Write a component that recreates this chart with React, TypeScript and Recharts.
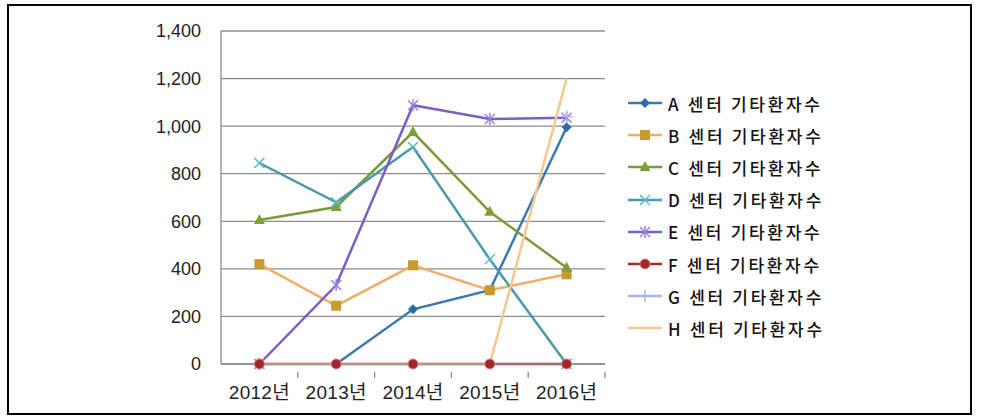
import React from 'react';
import { LineChart, Line, XAxis, YAxis, CartesianGrid } from 'recharts';

const years = ['2012년', '2013년', '2014년', '2015년', '2016년'];
const aValues = [null, 0, 230, 310, 995];
const bValues = [420, 245, 415, 310, 377];
const cValues = [605, 660, 975, 640, 405];
const dValues = [845, 680, 912, 440, 0];
const eValues = [0, 332, 1088, 1030, 1035];
const fValues = [0, 0, 0, 0, 0];
const gValues = [null, null, null, null, 1040];
const hValues = [0, 0, 0, 0, 1200];
const yTicks = [0, 200, 400, 600, 800, 1000, 1200, 1400];

const seriesNames = [
  'A 센터 기타환자수',
  'B 센터 기타환자수',
  'C 센터 기타환자수',
  'D 센터 기타환자수',
  'E 센터 기타환자수',
  'F 센터 기타환자수',
  'G 센터 기타환자수',
  'H 센터 기타환자수',
];

const data = years.map((y, i) => ({
  year: y,
  a: aValues[i],
  b: bValues[i],
  c: cValues[i],
  d: dValues[i],
  e: eValues[i],
  f: fValues[i],
  g: gValues[i],
  h: hValues[i],
}));

type Shape = 'diamond' | 'square' | 'triangle' | 'x' | 'star' | 'circle' | 'plus' | 'none';

const series: { key: string; name: string; stroke: string; marker: string; shape: Shape }[] = [
  { key: 'a', name: seriesNames[0], stroke: '#3C78B4', marker: '#2E6BA8', shape: 'diamond' },
  { key: 'b', name: seriesNames[1], stroke: '#F2AE68', marker: '#C99A2E', shape: 'square' },
  { key: 'c', name: seriesNames[2], stroke: '#7A9A3A', marker: '#7F9E35', shape: 'triangle' },
  { key: 'd', name: seriesNames[3], stroke: '#4A98A8', marker: '#5AB8CC', shape: 'x' },
  { key: 'e', name: seriesNames[4], stroke: '#7B5FC4', marker: '#9A80E0', shape: 'star' },
  { key: 'f', name: seriesNames[5], stroke: '#A52A2A', marker: '#A0282C', shape: 'circle' },
  { key: 'g', name: seriesNames[6], stroke: '#A8B4E4', marker: '#A8B8E8', shape: 'plus' },
  { key: 'h', name: seriesNames[7], stroke: '#F5C890', marker: '#F5C890', shape: 'none' },
];

function Marker({ shape, cx, cy, color }: { shape: Shape; cx: number; cy: number; color: string }) {
  switch (shape) {
    case 'diamond':
      return <polygon points={`${cx},${cy - 5} ${cx + 5},${cy} ${cx},${cy + 5} ${cx - 5},${cy}`} fill={color} />;
    case 'square':
      return <rect x={cx - 5} y={cy - 5} width={10} height={10} fill={color} />;
    case 'triangle':
      return <polygon points={`${cx},${cy - 6} ${cx + 5.5},${cy + 4} ${cx - 5.5},${cy + 4}`} fill={color} />;
    case 'x':
      return (
        <g stroke={color} strokeWidth={1.5}>
          <line x1={cx - 5} y1={cy - 5} x2={cx + 5} y2={cy + 5} />
          <line x1={cx - 5} y1={cy + 5} x2={cx + 5} y2={cy - 5} />
        </g>
      );
    case 'star':
      return (
        <g stroke={color} strokeWidth={1.5}>
          <line x1={cx - 5} y1={cy - 5} x2={cx + 5} y2={cy + 5} />
          <line x1={cx - 5} y1={cy + 5} x2={cx + 5} y2={cy - 5} />
          <line x1={cx} y1={cy - 6} x2={cx} y2={cy + 6} />
        </g>
      );
    case 'circle':
      return <circle cx={cx} cy={cy} r={5} fill={color} stroke="#E08080" strokeWidth={1} />;
    case 'plus':
      return (
        <g stroke={color} strokeWidth={1.5}>
          <line x1={cx - 6} y1={cy} x2={cx + 6} y2={cy} />
          <line x1={cx} y1={cy - 6} x2={cx} y2={cy + 6} />
        </g>
      );
    default:
      return <g />;
  }
}

const makeDot = (shape: Shape, color: string) => (props: any) => {
  const { cx, cy, index, value } = props;
  if (cx == null || cy == null || value == null || isNaN(cy)) return <g key={`d-${index}`} />;
  return (
    <g key={`d-${index}`}>
      <Marker shape={shape} cx={cx} cy={cy} color={color} />
    </g>
  );
};

const XTick = (props: any) => {
  const { x, y, payload } = props;
  const half = payload && payload.offset ? payload.offset : 38.5;
  return (
    <g>
      <line x1={x + half} y1={y} x2={x + half} y2={y + 6} stroke="#8C8C8C" strokeWidth={1.3} />
      <text
        x={x}
        y={y + 27}
        textAnchor="middle"
        fontSize={19}
        letterSpacing={0.3}
        fill="#222"
        fontFamily="'Liberation Sans', 'Noto Sans CJK KR', sans-serif"
      >
        {payload.value}
      </text>
    </g>
  );
};

function LegendBox() {
  return (
    <div style={{ position: 'absolute', left: 626, top: 87, fontFamily: "'Noto Sans CJK KR', sans-serif" }}>
      {series.map((s) => (
        <div key={s.key} style={{ display: 'flex', alignItems: 'center', height: 32.2 }}>
          <svg width={38} height={16} style={{ marginRight: 4 }}>
            <line x1={2} y1={8} x2={36} y2={8} stroke={s.stroke} strokeWidth={2.5} />
            <Marker shape={s.shape} cx={19} cy={8} color={s.marker} />
          </svg>
          <span style={{ fontSize: 17, fontWeight: 500, color: '#111', letterSpacing: 2.7, whiteSpace: 'nowrap' }}>
            {s.name}
          </span>
        </div>
      ))}
    </div>
  );
}

export default function App() {
  return (
    <div style={{ position: 'absolute', left: 0, top: 0, width: 981, height: 418, background: '#fff' }}>
      <div
        style={{
          position: 'absolute',
          left: 7,
          top: 4,
          width: 965,
          height: 411,
          border: '2px solid #000',
          boxSizing: 'border-box',
        }}
      />
      <div style={{ position: 'absolute', left: 0, top: 0 }}>
        <LineChart
          width={981}
          height={418}
          data={data}
          margin={{ top: 31, right: 376, bottom: 24, left: 0 }}
        >
          <CartesianGrid vertical={false} stroke="#8C8C8C" strokeWidth={1.3} />
          <XAxis
            dataKey="year"
            scale="band"
            height={30}
            axisLine={{ stroke: '#8C8C8C', strokeWidth: 1.3 }}
            tickLine={false}
            tick={<XTick />}
            interval={0}
          />
          <YAxis
            width={221}
            domain={[0, 1400]}
            ticks={yTicks}
            axisLine={{ stroke: '#8C8C8C', strokeWidth: 1.3 }}
            tickLine={false}
            tickSize={0}
            tickMargin={20}
            tickFormatter={(v: number) => v.toLocaleString('en-US')}
            tick={{ fontSize: 18, fill: '#222', fontFamily: "'Liberation Sans', sans-serif" }}
          />
          {series.map((s) => (
            <Line
              key={s.key}
              type="linear"
              dataKey={s.key}
              name={s.name}
              stroke={s.stroke}
              strokeWidth={2.5}
              dot={makeDot(s.shape, s.marker)}
              activeDot={false}
              isAnimationActive={false}
              connectNulls={false}
            />
          ))}
        </LineChart>
      </div>
      <LegendBox />
    </div>
  );
}
